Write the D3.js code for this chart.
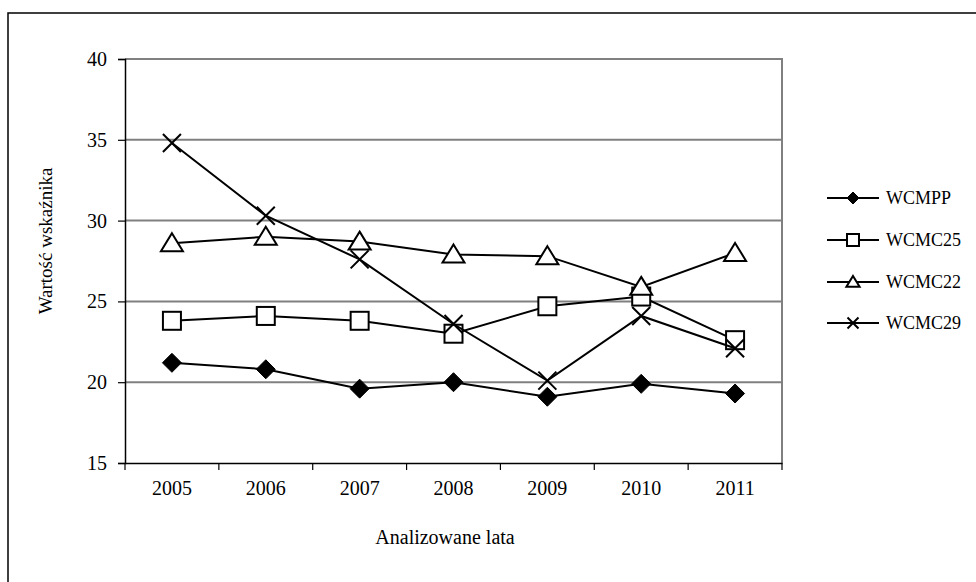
<!DOCTYPE html>
<html><head><meta charset="utf-8">
<script src="https://cdn.jsdelivr.net/npm/d3@7"></script>
<style>body{margin:0;background:#fff;}svg text{font-family:"Liberation Serif","Times New Roman","DejaVu Serif",serif !important;fill:#000;}</style>
</head><body><svg id="c" width="976" height="582"></svg>
<script>
const years = ["2005","2006","2007","2008","2009","2010","2011"];
const seriesNames = ["WCMPP","WCMC25","WCMC22","WCMC29"];
const wcmpp  = [21.2, 20.8, 19.6, 20.0, 19.1, 19.9, 19.3];
const wcmc25 = [23.8, 24.1, 23.8, 23.0, 24.7, 25.3, 22.6];
const wcmc22 = [28.6, 29.0, 28.7, 27.9, 27.8, 25.9, 28.0];
const wcmc29 = [34.8, 30.3, 27.6, 23.6, 20.1, 24.1, 22.1];
const yTicks = [15, 20, 25, 30, 35, 40];
const markers = ["diamond","square","triangle","cross"];

const svg = d3.select("#c");
const L = 125, R = 782, T = 59, B = 463;
svg.append("rect").attr("x",8).attr("y",13).attr("width",1000).attr("height",600)
  .attr("fill","none").attr("stroke","#000").attr("stroke-width",1.5);

const x = d3.scaleBand().domain(years).range([L,R]);
const y = d3.scaleLinear().domain([15,40]).range([B,T]);

svg.append("g").selectAll("line").data(yTicks.filter(d=>d>15)).join("line")
  .attr("x1",L).attr("x2",R).attr("y1",d=>y(d)).attr("y2",d=>y(d))
  .attr("stroke","#808080").attr("stroke-width",2);
svg.append("line").attr("x1",R).attr("x2",R).attr("y1",T-1).attr("y2",B)
  .attr("stroke","#808080").attr("stroke-width",2);

const yAx = svg.append("g").attr("transform",`translate(${L},0)`)
  .call(d3.axisLeft(y).tickValues(yTicks).tickSize(7).tickPadding(11).tickFormat(d3.format("d")));
yAx.select(".domain").attr("stroke","#000").attr("stroke-width",1.5);
yAx.selectAll(".tick line").attr("stroke","#000").attr("stroke-width",1.2);
yAx.selectAll("text").attr("font-size",20);

const xAx = svg.append("g").attr("transform",`translate(0,${B})`)
  .call(d3.axisBottom(x).tickSize(0).tickPadding(18));
xAx.select(".domain").attr("stroke","#000").attr("stroke-width",1.5);
xAx.selectAll("text").attr("font-size",20);
const bounds = years.map(d=>x(d)).concat([x(years[years.length-1])+x.bandwidth()]);
svg.append("g").selectAll("line").data(bounds).join("line")
  .attr("x1",d=>d).attr("x2",d=>d).attr("y1",B).attr("y2",B+7)
  .attr("stroke","#000").attr("stroke-width",1.2);

svg.append("text").attr("x",445).attr("y",544).attr("text-anchor","middle")
  .attr("font-size",20).text("Analizowane lata");
svg.append("text").attr("transform","translate(52,241) rotate(-90)").attr("text-anchor","middle")
  .attr("font-size",19).text("Wartość wskaźnika");

function drawMarker(g, type, s){
  if(type==="diamond"){
    g.append("path").attr("d",`M0,${-s}L${s},0L0,${s}L${-s},0Z`).attr("fill","#000").attr("stroke","#000");
  } else if(type==="square"){
    g.append("rect").attr("x",-s).attr("y",-s).attr("width",2*s).attr("height",2*s)
      .attr("fill","#fff").attr("stroke","#000").attr("stroke-width",2);
  } else if(type==="triangle"){
    g.append("path").attr("d",`M0,${-s}L${s*1.1},${s*0.8}L${-s*1.1},${s*0.8}Z`)
      .attr("fill","#fff").attr("stroke","#000").attr("stroke-width",2);
  } else {
    g.append("path").attr("d",`M${-s},${-s}L${s},${s}M${-s},${s}L${s},${-s}`)
      .attr("fill","none").attr("stroke","#000").attr("stroke-width",2);
  }
}

const data = [wcmpp, wcmc25, wcmc22, wcmc29];
const cx = d => x(d) + x.bandwidth()/2;
const line = d3.line().x((d,i)=>cx(years[i])).y(d=>y(d));
const sizes = [9.5, 9, 10, 9];
data.forEach((vals,si)=>{
  svg.append("path").attr("d",line(vals)).attr("fill","none").attr("stroke","#000").attr("stroke-width",2);
  vals.forEach((v,i)=>{
    const g = svg.append("g").attr("transform",`translate(${cx(years[i])},${y(v)})`);
    drawMarker(g, markers[si], sizes[si]);
  });
});

const legY = [198, 240, 282, 323];
seriesNames.forEach((n,i)=>{
  const g = svg.append("g").attr("transform",`translate(0,${legY[i]})`);
  g.append("line").attr("x1",827).attr("x2",879).attr("y1",0).attr("y2",0).attr("stroke","#000").attr("stroke-width",2);
  const m = g.append("g").attr("transform","translate(853,0)");
  drawMarker(m, markers[i], [6,6,6,5.5][i]);
  g.append("text").attr("x",886).attr("y",6).attr("font-size",18).text(n);
});
</script></body></html>
